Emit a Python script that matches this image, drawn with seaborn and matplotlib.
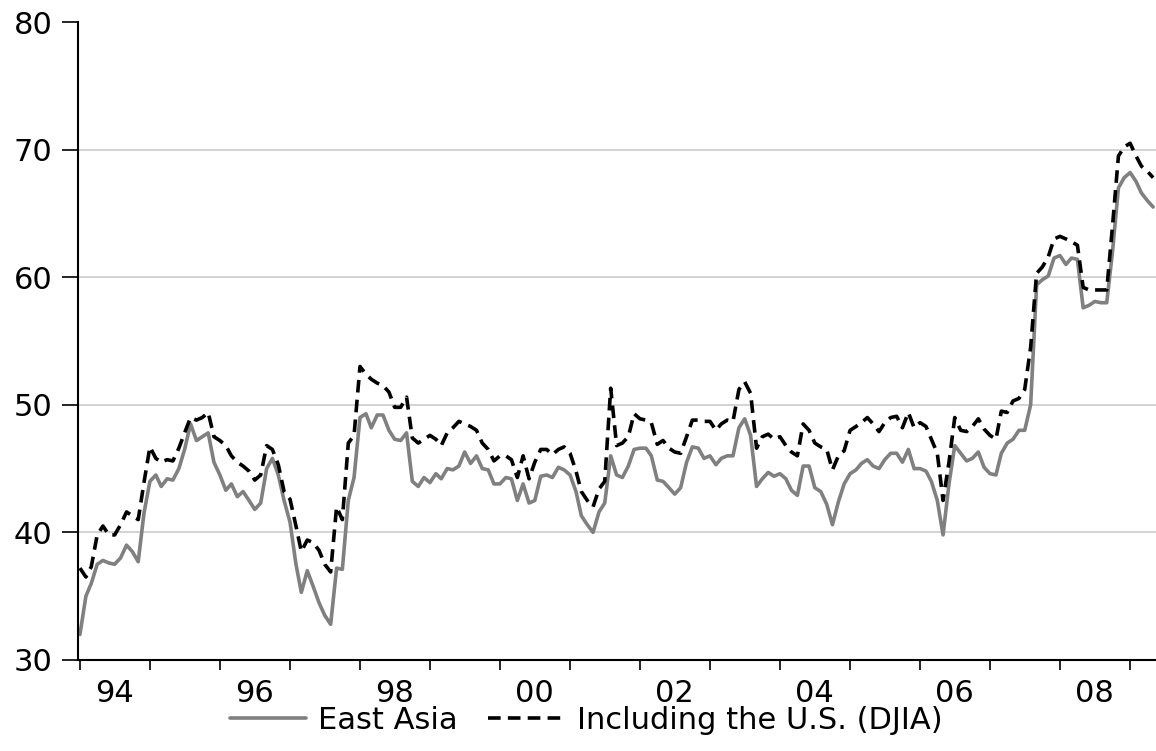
import matplotlib.pyplot as plt
import matplotlib.dates as mdates
import pandas as pd
import seaborn as sns

# monthly readings, Jan 1994 - May 2009
east_asia = [
    32.0, 35.0, 36.0, 37.5, 37.8, 37.6, 37.5, 38.0, 39.0, 38.5, 37.7, 41.5,  # 1994
    44.0, 44.5, 43.6, 44.2, 44.1, 45.0, 46.5, 48.5, 47.2, 47.5, 47.8, 45.5,  # 1995
    44.5, 43.3, 43.8, 42.8, 43.2, 42.5, 41.8, 42.3, 45.0, 45.8, 44.5, 42.5,  # 1996
    40.8, 37.5, 35.3, 37.0, 35.8, 34.5, 33.5, 32.8, 37.2, 37.1, 42.5, 44.3,  # 1997
    49.0, 49.3, 48.2, 49.2, 49.2, 48.0, 47.3, 47.2, 47.8, 44.0, 43.6, 44.3,  # 1998
    43.9, 44.6, 44.2, 45.0, 44.9, 45.2, 46.3, 45.4, 46.0, 45.0, 44.9, 43.8,  # 1999
    43.8, 44.3, 44.2, 42.5, 43.8, 42.3, 42.5, 44.4, 44.5, 44.3, 45.1, 44.9,  # 2000
    44.5, 43.2, 41.3, 40.6, 40.0, 41.6, 42.3, 46.0, 44.5, 44.3, 45.2, 46.5,  # 2001
    46.6, 46.6, 46.0, 44.1, 44.0, 43.5, 43.0, 43.5, 45.5, 46.7, 46.6, 45.8,  # 2002
    46.0, 45.3, 45.8, 46.0, 46.0, 48.2, 48.9, 47.6, 43.6, 44.2, 44.7, 44.4,  # 2003
    44.6, 44.2, 43.3, 42.9, 45.2, 45.2, 43.5, 43.2, 42.2, 40.6, 42.4, 43.8,  # 2004
    44.6, 44.9, 45.4, 45.7, 45.2, 45.0, 45.7, 46.2, 46.2, 45.5, 46.5, 45.0,  # 2005
    45.0, 44.8, 44.0, 42.5, 39.8, 43.8, 46.8, 46.2, 45.6, 45.8, 46.3, 45.1,  # 2006
    44.6, 44.5, 46.2, 47.0, 47.3, 48.0, 48.0, 50.0, 59.4, 59.8, 60.1, 61.5,  # 2007
    61.7, 61.0, 61.5, 61.4, 57.6, 57.8, 58.1, 58.0, 58.0, 62.0, 67.0, 67.8,  # 2008
    68.2, 67.5, 66.6, 66.0, 65.5,                                            # 2009
]
incl_us = [
    37.2, 36.5, 37.3, 39.8, 40.5, 39.8, 39.8, 40.6, 41.6, 41.3, 41.0, 43.9,
    46.7, 45.8, 45.5, 45.7, 45.6, 46.6, 47.8, 49.0, 48.8, 49.0, 49.4, 47.5,
    47.2, 46.8, 46.0, 45.5, 45.2, 44.8, 44.1, 44.5, 46.8, 46.5, 45.3, 43.2,
    42.6, 40.5, 38.5, 39.4, 39.2, 38.6, 37.5, 36.9, 42.0, 41.0, 47.0, 47.6,
    53.0, 52.4, 52.0, 51.7, 51.5, 51.0, 49.8, 49.8, 50.6, 47.4, 47.0, 47.3,
    47.6, 47.3, 46.8, 47.8, 48.2, 48.7, 48.5, 48.3, 48.0, 47.0, 46.5, 45.6,
    46.0, 46.0, 45.7, 44.3, 46.0, 44.2, 45.5, 46.5, 46.5, 46.1, 46.5, 46.7,
    46.2, 44.8, 43.2, 42.5, 42.0, 43.4, 44.0, 51.3, 46.8, 47.0, 47.5, 49.3,
    48.9, 48.8, 48.6, 46.9, 47.2, 46.6, 46.3, 46.2, 47.5, 48.8, 48.8, 48.7,
    48.7, 48.0, 48.5, 48.8, 48.7, 51.2, 51.8, 50.9, 46.6, 47.5, 47.7, 47.3,
    47.5, 46.8, 46.3, 46.0, 48.5, 48.0, 47.0, 46.7, 46.5, 44.9, 46.0, 46.4,
    48.0, 48.3, 48.6, 49.0, 48.5, 47.9, 48.6, 49.0, 49.1, 48.2, 49.4, 48.2,
    48.6, 48.3, 47.3, 46.2, 42.5, 45.5, 49.0, 48.0, 47.9, 48.3, 48.9, 48.1,
    47.6, 47.3, 49.5, 49.4, 50.3, 50.5, 51.2, 54.5, 60.3, 60.8, 61.6, 63.0,
    63.2, 63.0, 62.8, 62.5, 59.2, 59.0, 59.0, 59.0, 59.0, 64.0, 69.5, 70.2,
    70.5, 69.5, 68.7, 68.3, 67.8,
]
year_labels = ['94', '96', '98', '00', '02', '04', '06', '08']
label_years = [1994, 1996, 1998, 2000, 2002, 2004, 2006, 2008]
grid_levels = [40, 50, 60, 70]

dates = pd.date_range('1994-01-01', periods=len(east_asia), freq='MS')
df = pd.DataFrame({'date': dates, 'East Asia': east_asia,
                   'Including the U.S. (DJIA)': incl_us})

sns.set_style('white')
plt.rcParams['font.family'] = ['DejaVu Sans']
plt.rcParams['text.color'] = 'black'
plt.rcParams['xtick.color'] = 'black'
plt.rcParams['ytick.color'] = 'black'
plt.rcParams['xtick.labelcolor'] = 'black'
plt.rcParams['ytick.labelcolor'] = 'black'
fs = 22

fig = plt.figure(figsize=(11.56, 7.51), dpi=100)
ax = fig.add_axes([0.0675, 0.1212, 0.9325, 0.8495])

for lv in grid_levels:
    ax.axhline(lv, color='#d0d0d0', lw=1.3, zorder=0)

sns.lineplot(data=df, x='date', y='East Asia', ax=ax, color='#808080',
             lw=2.6, label='East Asia')
sns.lineplot(data=df, x='date', y='Including the U.S. (DJIA)', ax=ax,
             color='black', lw=2.6, linestyle=(0, (3.5, 2.0)),
             label='Including the U.S. (DJIA)')

ax.set_ylim(30, 80)
ax.set_yticks([30, 40, 50, 60, 70, 80])
ax.set_xlim(pd.Timestamp('1993-12-22'), pd.Timestamp('2009-05-16'))
ax.xaxis.set_major_locator(mdates.YearLocator())
ax.xaxis.set_major_formatter(plt.NullFormatter())
ax.set_xticks([pd.Timestamp(f'{y}-07-01') for y in label_years], minor=True)
ax.set_xticklabels(year_labels, minor=True)
ax.tick_params(axis='x', which='major', direction='out', length=7.5,
               width=1.2, color='black', bottom=True)
ax.tick_params(axis='x', which='minor', length=0, pad=14, labelsize=fs,
               labelcolor='black')
ax.tick_params(axis='y', direction='out', length=11.5, width=1.2,
               color='black', left=True, pad=7, labelsize=fs,
               labelcolor='black')
ax.set_xlabel('')
ax.set_ylabel('')

sns.despine(ax=ax)
for side in ['left', 'bottom']:
    ax.spines[side].set_color('black')
    ax.spines[side].set_linewidth(1.5)

handles, labels = ax.get_legend_handles_labels()
ax.get_legend().remove()
leg = fig.legend(handles, labels, loc='center', bbox_to_anchor=(0.507, 0.041),
                 ncol=2, frameon=False, fontsize=fs, handlelength=2.5,
                 handletextpad=0.4, columnspacing=1.0)
for t in leg.get_texts():
    t.set_color('black')

fig.savefig('out.png', dpi=100)
